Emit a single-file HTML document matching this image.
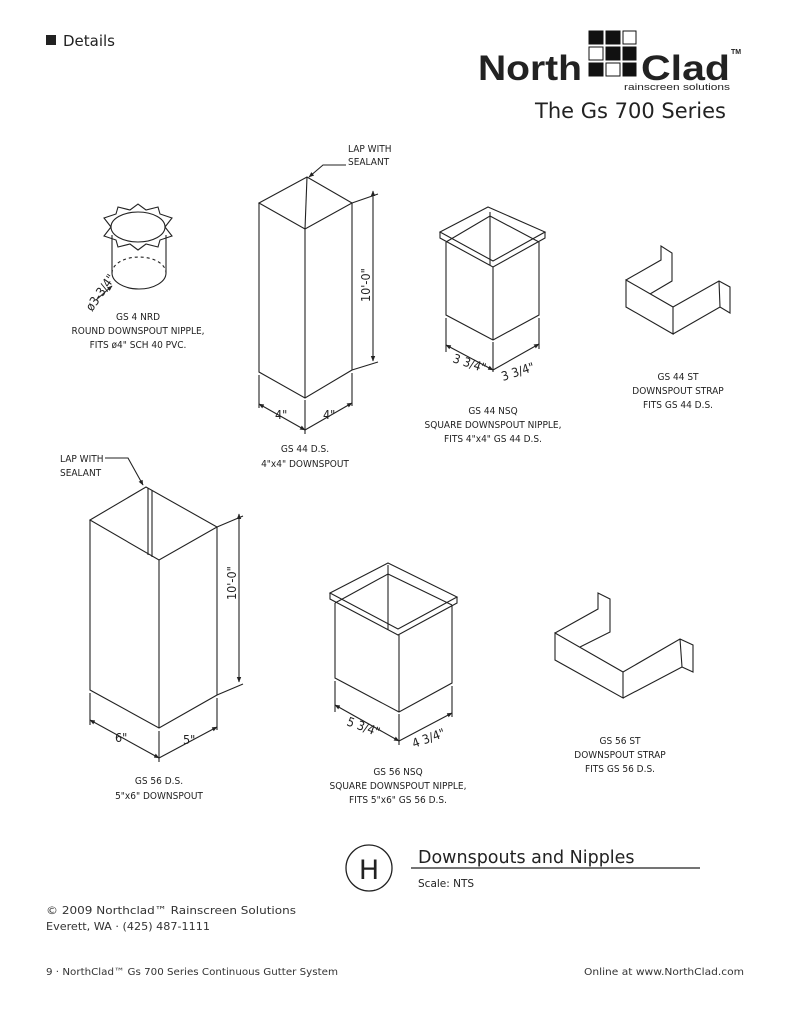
<!DOCTYPE html>
<html><head><meta charset="utf-8"><style>
html,body{margin:0;padding:0;background:#fff}
svg{display:block}
.d{fill:none;stroke:#222;stroke-width:1.1}
.t{font-family:"Liberation Sans Narrow","DejaVu Sans Condensed","Liberation Sans",sans-serif;font-size:10px;fill:#222}
.n{font-size:12.5px}
.c{text-anchor:middle}
.g{font-family:"DejaVu Sans","Liberation Sans",sans-serif;fill:#222}
.s{font-family:"DejaVu Sans","Liberation Sans",sans-serif;fill:#333}
</style></head><body>
<svg width="791" height="1024" viewBox="0 0 791 1024" xmlns="http://www.w3.org/2000/svg">
<defs><marker id="a" viewBox="0 0 10 10" refX="9" refY="5" markerWidth="5" markerHeight="5" orient="auto-start-reverse"><path d="M0,1 L10,5 L0,9z" fill="#222"/></marker></defs>

<!-- header -->
<rect x="46" y="35" width="10" height="10" fill="#222"/>
<text x="63" y="46" class="g" font-size="15" fill="#444">Details</text>
<text x="478" y="80" font-family="Liberation Sans,sans-serif" font-weight="bold" font-size="35" fill="#222" textLength="104" lengthAdjust="spacingAndGlyphs">North</text>
<g fill="#111" stroke="#111" stroke-width="1">
<rect x="589" y="31" width="14" height="13"/><rect x="606" y="31" width="14" height="13"/><rect x="623" y="31" width="13" height="13" fill="#fff"/>
<rect x="589" y="47" width="14" height="13" fill="#fff"/><rect x="606" y="47" width="14" height="13"/><rect x="623" y="47" width="13" height="13"/>
<rect x="589" y="63" width="14" height="13"/><rect x="606" y="63" width="14" height="13" fill="#fff"/><rect x="623" y="63" width="13" height="13"/>
</g>
<text x="641" y="80" font-family="Liberation Sans,sans-serif" font-weight="bold" font-size="35" fill="#222" textLength="89" lengthAdjust="spacingAndGlyphs">Clad</text>
<text x="731" y="54" font-family="Liberation Sans,sans-serif" font-weight="bold" font-size="7" fill="#222">TM</text>
<text x="624" y="90" font-family="Liberation Sans,sans-serif" font-size="9.5" fill="#222" textLength="106" lengthAdjust="spacingAndGlyphs">rainscreen solutions</text>
<text x="535" y="118" class="g" font-size="21">The Gs 700 Series</text>

<!-- round nipple -->
<g class="d">
<path d="M111,227 L104,218 L116,214 L118,207 L130,210 L138,204 L146,210 L158,207 L160,214 L172,218 L165,227 L172,236 L160,240 L158,247 L146,244 L138,250 L130,244 L118,247 L116,240 L104,236 Z"/>
<ellipse cx="138" cy="227" rx="27" ry="15" fill="#fff"/>
<line x1="112" y1="235" x2="112" y2="273"/><line x1="166" y1="235" x2="166" y2="273"/>
<path d="M112,273 A27,16 0 0 0 166,273"/>
<path d="M112,273 A27,16 0 0 1 166,273" stroke-dasharray="3,3"/>
<line x1="96" y1="300" x2="112" y2="286" marker-end="url(#a)"/>
</g>
<text class="t n" transform="translate(92,312) rotate(-55)">ø3-3/4"</text>
<text class="t c" x="138" y="320">GS 4 NRD</text>
<text class="t c" x="138" y="334">ROUND DOWNSPOUT NIPPLE,</text>
<text class="t c" x="138" y="348">FITS ø4"   SCH 40 PVC.</text>

<!-- GS44 DS -->
<g class="d">
<path d="M259,203 L307,177 L352,203 L305,229 Z"/>
<line x1="307" y1="177" x2="305" y2="229"/>
<path d="M259,203 L259,372 L305,398 L352,370 L352,203"/>
<line x1="305" y1="229" x2="305" y2="398"/>
<path d="M352,203 L378,194 M352,370 L378,362"/>
<line x1="373" y1="191" x2="373" y2="361" marker-start="url(#a)" marker-end="url(#a)"/>
<path d="M259,375 L259,408 M305,400 L305,434 M352,373 L352,406"/>
<line x1="259" y1="404" x2="305" y2="430" marker-start="url(#a)" marker-end="url(#a)"/>
<line x1="305" y1="430" x2="352" y2="403" marker-end="url(#a)"/>
<path d="M346,165 L323,165 L309,177" marker-end="url(#a)"/>
</g>
<text class="t n" transform="translate(370,302) rotate(-90)">10'-0"</text>
<text class="t n" x="275" y="419">4"</text><text class="t n" x="323" y="419">4"</text>
<text class="t" x="348" y="152">LAP WITH</text><text class="t" x="348" y="165">SEALANT</text>
<text class="t c" x="305" y="452">GS 44 D.S.</text>
<text class="t c" x="305" y="467">4"x4"  DOWNSPOUT</text>

<!-- GS44 NSQ -->
<g class="d">
<path d="M440,232 L488,207 L545,232 L493,261 Z"/>
<path d="M440,232 L440,238 L493,267 L545,238 L545,232"/>
<path d="M446,242 L490,216 L539,242"/>
<line x1="490" y1="212" x2="490" y2="265"/>
<path d="M446,242 L446,315 L493,340 L539,315 L539,242"/>
<line x1="493" y1="267" x2="493" y2="340"/>
<path d="M446,318 L446,352 M493,342 L493,372 M539,318 L539,349"/>
<line x1="446" y1="345" x2="493" y2="370" marker-start="url(#a)" marker-end="url(#a)"/>
<line x1="493" y1="370" x2="539" y2="344" marker-end="url(#a)"/>
</g>
<text class="t n" transform="translate(452,362) rotate(18)">3 3/4"</text>
<text class="t n" transform="translate(503,381) rotate(-18)">3 3/4"</text>
<text class="t c" x="493" y="414">GS 44 NSQ</text>
<text class="t c" x="493" y="428">SQUARE DOWNSPOUT NIPPLE,</text>
<text class="t c" x="493" y="442">FITS 4"x4"   GS 44 D.S.</text>

<!-- GS44 ST -->
<g class="d">
<path d="M626,280 L673,307 L673,334 L626,307 Z"/>
<path d="M626,280 L661,260 L661,246 L672,253 L672,281 L650,294"/>
<path d="M673,307 L719,281 L730,287 L730,313 L720,307 L673,334 M719,281 L720,307"/>
</g>
<text class="t c" x="678" y="380">GS 44 ST</text>
<text class="t c" x="678" y="394">DOWNSPOUT STRAP</text>
<text class="t c" x="678" y="408">FITS GS 44 D.S.</text>

<!-- GS56 DS -->
<g class="d">
<path d="M90,520 L146,487 L217,527 L159,560 Z"/>
<line x1="152" y1="490" x2="152" y2="557"/><line x1="148" y1="488" x2="148" y2="555"/>
<path d="M90,520 L90,690 L159,728 L217,695 L217,527"/>
<line x1="159" y1="560" x2="159" y2="728"/>
<path d="M217,527 L243,516 M217,695 L243,684"/>
<line x1="239" y1="514" x2="239" y2="682" marker-start="url(#a)" marker-end="url(#a)"/>
<path d="M90,693 L90,725 M159,731 L159,762 M217,698 L217,730"/>
<line x1="90" y1="720" x2="159" y2="758" marker-start="url(#a)" marker-end="url(#a)"/>
<line x1="159" y1="758" x2="217" y2="727" marker-end="url(#a)"/>
<path d="M105,458 L128,458 L143,485" marker-end="url(#a)"/>
</g>
<text class="t n" transform="translate(236,600) rotate(-90)">10'-0"</text>
<text class="t n" x="115" y="742">6"</text><text class="t n" x="183" y="744">5"</text>
<text class="t" x="60" y="462">LAP WITH</text><text class="t" x="60" y="476">SEALANT</text>
<text class="t c" x="159" y="784">GS 56 D.S.</text>
<text class="t c" x="159" y="799">5"x6"  DOWNSPOUT</text>

<!-- GS56 NSQ -->
<g class="d">
<path d="M330,593 L388,563 L457,597 L398,629 Z"/>
<path d="M330,593 L330,599 L398,635 L457,603 L457,597"/>
<path d="M335,603 L388,574 L452,605"/>
<line x1="388" y1="565" x2="388" y2="630"/>
<path d="M335,603 L335,678 L399,712 L452,683 L452,605"/>
<line x1="399" y1="635" x2="399" y2="712"/>
<path d="M335,681 L335,712 M399,714 L399,745 M452,686 L452,717"/>
<line x1="335" y1="705" x2="399" y2="741" marker-start="url(#a)" marker-end="url(#a)"/>
<line x1="399" y1="741" x2="452" y2="713" marker-end="url(#a)"/>
</g>
<text class="t n" transform="translate(346,725) rotate(20)">5 3/4"</text>
<text class="t n" transform="translate(414,748) rotate(-20)">4 3/4"</text>
<text class="t c" x="398" y="775">GS 56 NSQ</text>
<text class="t c" x="398" y="789">SQUARE DOWNSPOUT NIPPLE,</text>
<text class="t c" x="398" y="803">FITS 5"x6"   GS 56 D.S.</text>

<!-- GS56 ST -->
<g class="d">
<path d="M555,633 L623,672 L623,698 L555,660 Z"/>
<path d="M555,633 L598,609 L598,593 L610,599 L610,632 L580,647"/>
<path d="M623,672 L680,639 L693,645 L693,672 L682,667 L623,698 M680,639 L682,667"/>
</g>
<text class="t c" x="620" y="744">GS 56 ST</text>
<text class="t c" x="620" y="758">DOWNSPOUT STRAP</text>
<text class="t c" x="620" y="772">FITS GS 56 D.S.</text>

<!-- title block -->
<circle cx="369" cy="868" r="23" fill="none" stroke="#222" stroke-width="1.3"/>
<text x="369" y="879" class="g" font-size="27" text-anchor="middle">H</text>
<line x1="411" y1="868" x2="700" y2="868" stroke="#222" stroke-width="1.3"/>
<text x="418" y="863" class="g" font-size="17.5">Downspouts and Nipples</text>
<text x="418" y="887" class="g" font-size="10.5" fill="#444">Scale: NTS</text>

<!-- footer -->
<text x="46" y="914" class="s" font-size="11" textLength="250" lengthAdjust="spacingAndGlyphs">© 2009 Northclad™ Rainscreen Solutions</text>
<text x="46" y="930" class="s" font-size="11" textLength="164" lengthAdjust="spacingAndGlyphs">Everett, WA · (425) 487-1111</text>
<text x="46" y="975" class="s" font-size="10" textLength="292" lengthAdjust="spacingAndGlyphs">9 · NorthClad™ Gs 700 Series Continuous Gutter System</text>
<text x="584" y="975" class="s" font-size="10" textLength="160" lengthAdjust="spacingAndGlyphs">Online at www.NorthClad.com</text>
</svg>
</body></html>
